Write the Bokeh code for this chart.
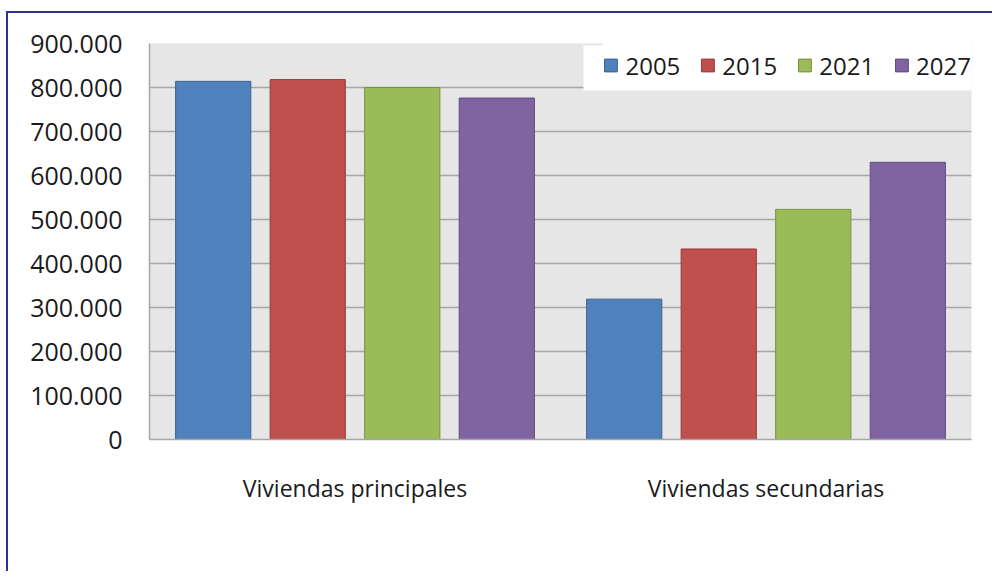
from bokeh.plotting import figure
from bokeh.models import ColumnDataSource, FactorRange, Range1d, FixedTicker, Legend, LegendItem, BoxAnnotation
from bokeh.transform import dodge
from bokeh.embed import file_html
from bokeh.resources import INLINE

categories = ["Viviendas principales", "Viviendas secundarias"]
years = ["2005", "2015", "2021", "2027"]
v2005 = [814000, 319000]
v2015 = [818000, 433000]
v2021 = [800000, 523000]
v2027 = [776000, 630000]
y_ticks = [0, 100000, 200000, 300000, 400000, 500000, 600000, 700000, 800000, 900000]
y_tick_labels = ["0", "100.000", "200.000", "300.000", "400.000", "500.000",
                 "600.000", "700.000", "800.000", "900.000"]

fills = ["#4F81BD", "#C0504D", "#9BBB59", "#8064A2"]
lines = ["#3A6395", "#963A38", "#76923C", "#5F4A7E"]
offsets = [-0.345, -0.115, 0.115, 0.345]

source = ColumnDataSource(data=dict(cat=categories, y2005=v2005, y2015=v2015,
                                    y2021=v2021, y2027=v2027))

FONT = "Open Sans"

p = figure(x_range=FactorRange(*categories, range_padding=0),
           y_range=Range1d(0, 900000),
           width=986, height=560,
           min_border_left=141, min_border_top=30, min_border_right=23, min_border_bottom=134,
           output_backend="svg", toolbar_location=None)

p.styles = {"border-left": "2px solid #2E3192", "border-top": "2px solid #2E3192",
            "margin-left": "6px", "margin-top": "11px"}

p.background_fill_color = "#E6E6E6"
p.border_fill_color = "white"
p.outline_line_color = None

renderers = []
cols = ["y2005", "y2015", "y2021", "y2027"]
for col, off, fc, lc in zip(cols, offsets, fills, lines):
    r = p.vbar(x=dodge("cat", off, range=p.x_range), top=col, width=0.183,
               source=source, fill_color=fc, line_color=lc, line_width=1)
    renderers.append(r)

p.xgrid.grid_line_color = None
p.ygrid.grid_line_color = "#A6A6A6"
p.ygrid.grid_line_width = 1.5
p.ygrid.ticker = FixedTicker(ticks=y_ticks)

p.yaxis.ticker = FixedTicker(ticks=y_ticks)
p.yaxis.major_label_overrides = {t: l for t, l in zip(y_ticks, y_tick_labels)}
p.yaxis.axis_line_color = "#A6A6A6"
p.yaxis.axis_line_width = 1.5
p.yaxis.major_tick_line_color = None
p.yaxis.minor_tick_line_color = None
p.yaxis.major_label_text_font = FONT
p.yaxis.major_label_text_font_size = "25px"
p.yaxis.major_label_text_color = "#1a1a1a"
p.yaxis.major_label_standoff = 21

p.xaxis.axis_line_color = "#A6A6A6"
p.xaxis.axis_line_width = 1.5
p.xaxis.major_tick_line_color = None
p.xaxis.minor_tick_line_color = None
p.xaxis.major_label_text_font = FONT
p.xaxis.major_label_text_font_size = "23px"
p.xaxis.major_label_text_color = "#1a1a1a"
p.xaxis.major_label_standoff = 26

# white panel behind the legend (extends the legend background to the left)
legend_bg = BoxAnnotation(left=573, right=963, top=30, bottom=75,
                          left_units="canvas", right_units="canvas",
                          top_units="canvas", bottom_units="canvas",
                          fill_color="white", fill_alpha=1.0, line_color=None)
p.add_layout(legend_bg)

legend = Legend(items=[LegendItem(label=y, renderers=[r]) for y, r in zip(years, renderers)],
                orientation="horizontal", location="top_right", margin=0,
                padding=0, spacing=19, label_standoff=7, label_height=44,
                glyph_width=16, glyph_height=16,
                label_text_font=FONT, label_text_font_size="24px",
                label_text_color="#1a1a1a",
                background_fill_color="white", background_fill_alpha=1.0,
                border_line_color=None)
p.add_layout(legend)

open("out.html", "w").write(file_html(p, INLINE))
